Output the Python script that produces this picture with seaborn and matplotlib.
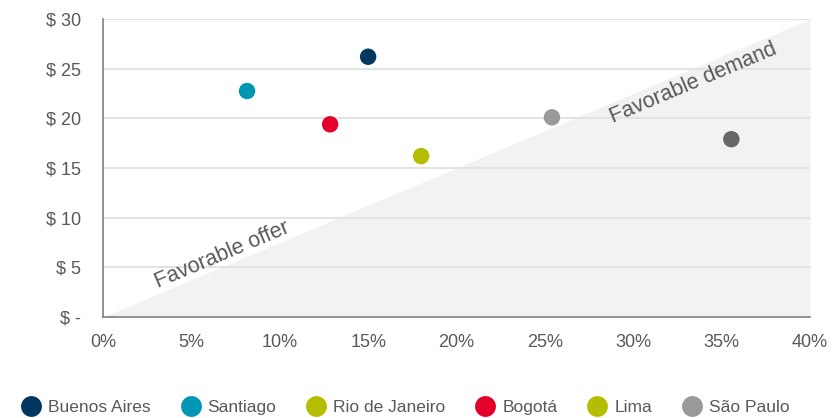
import matplotlib
matplotlib.use("Agg")
import matplotlib.pyplot as plt
import seaborn as sns
import pandas as pd
import numpy as np
from matplotlib.lines import Line2D

cities = ["Buenos Aires", "Santiago", "Rio de Janeiro", "Bogotá", "Lima", "São Paulo"]
x_vals = [15.0, 8.15, 35.55, 12.85, 18.0, 25.4]
y_vals = [26.2, 22.75, 17.9, 19.4, 16.2, 20.1]
point_colors = ["#003761", "#0096b4", "#666666", "#e4002b", "#b5bd00", "#999999"]
legend_colors = ["#003761", "#0096b4", "#b5bd00", "#e4002b", "#b5bd00", "#999999"]
x_ticks = [0, 5, 10, 15, 20, 25, 30, 35, 40]
y_ticks = [0, 5, 10, 15, 20, 25, 30]
y_labels = ["$ -", "$ 5", "$ 10", "$ 15", "$ 20", "$ 25", "$ 30"]

sns.set_theme(style="white")
plt.rcParams["font.family"] = ["Liberation Sans", "DejaVu Sans"]
txt = "#595959"

df = pd.DataFrame({"city": cities, "x": x_vals, "y": y_vals})

fig = plt.figure(figsize=(8.32, 4.18), dpi=100)
ax = fig.add_axes([103/832, 1-317/418, 707/832, 298/418])

# favorable demand region
ax.fill_between([0, 40], [0, 0], [0, 30], color="#f2f2f2", zorder=0, lw=0)
for yt in y_ticks[1:]:
    ax.axhline(yt, color="#e3e3e3", lw=1.5, zorder=0.5)

sns.scatterplot(data=df, x="x", y="y", hue="city", palette=dict(zip(cities, point_colors)),
                s=140, edgecolor="none", legend=False, ax=ax, zorder=3)

ax.set_xlim(0, 40)
ax.set_ylim(0, 30)
ax.set_xticks(x_ticks)
ax.set_xticklabels([f"{t}%" for t in x_ticks])
ax.set_yticks(y_ticks)
ax.set_yticklabels(y_labels)
ax.set_xlabel("")
ax.set_ylabel("")
for s in ["top", "right"]:
    ax.spines[s].set_visible(False)
for s in ["left", "bottom"]:
    ax.spines[s].set_color("#808080")
    ax.spines[s].set_linewidth(1.2)
ax.tick_params(axis="both", colors="#808080", labelcolor=txt, labelsize=13, length=5, width=1, direction="out")
ax.tick_params(axis="x", pad=7)
ax.tick_params(axis="y", pad=11)
ax.set_facecolor("white")

ang = np.degrees(np.arctan((298/707)))
ax.text(6.75, 6.25, "Favorable offer", rotation=ang, rotation_mode="anchor", ha="center", va="center",
        fontsize=15.5, color=txt, zorder=4)
ax.text(33.4, 23.5, "Favorable demand", rotation=ang, rotation_mode="anchor", ha="center", va="center",
        fontsize=15.5, color=txt, zorder=4)

handles = [Line2D([0], [0], marker="o", linestyle="", markersize=15, markerfacecolor=c,
                  markeredgecolor="none") for c in legend_colors]
fig.legend(handles, cities, loc="center", bbox_to_anchor=(0.487, 1-407/418), ncol=6, frameon=False,
           fontsize=12.5, labelcolor=txt, handletextpad=0.37, columnspacing=1.7, handlelength=1.2)

fig.savefig("out.png", dpi=100)
